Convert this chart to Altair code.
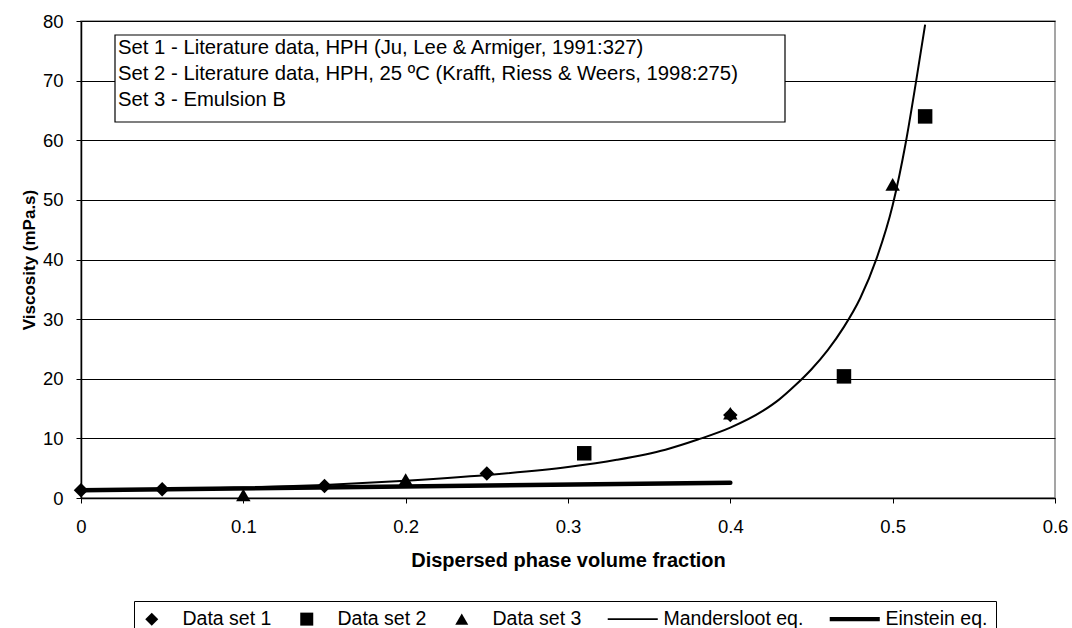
import altair as alt
import pandas as pd

# Measured viscosities (mPa.s) against dispersed phase volume fraction
set1_phi = [0.0, 0.05, 0.15, 0.25, 0.40]
set1_visc = [1.3, 1.45, 2.0, 4.1, 13.9]
set2_phi = [0.31, 0.47, 0.52]
set2_visc = [7.5, 20.4, 64.0]
set3_phi = [0.10, 0.20, 0.40, 0.50]
set3_visc = [0.5, 3.1, 14.2, 52.6]

# Model curves
mand_phi = [0.0, 0.05, 0.10, 0.15, 0.20, 0.25, 0.30, 0.33, 0.36, 0.38, 0.40,
            0.42, 0.43, 0.44, 0.45, 0.46, 0.47, 0.48, 0.49, 0.50, 0.508, 0.5145, 0.52]
mand_visc = [1.3, 1.48, 1.75, 2.2, 2.9, 3.85, 5.2, 6.4, 8.1, 9.8, 11.8,
             14.6, 16.5, 18.9, 21.6, 24.8, 28.7, 33.5, 40.1, 49.1, 59.5, 70.0, 79.4]
einstein_phi = [0.0, 0.40]
einstein_visc = [1.28, 2.56]

series_names = ["Data set 1", "Data set 2", "Data set 3", "Mandersloot eq.", "Einstein eq."]
note_lines = [
    "Set 1 - Literature data, HPH (Ju, Lee & Armiger, 1991:327)",
    "Set 2 - Literature data, HPH, 25 \u00baC (Krafft, Riess & Weers, 1998:275)",
    "Set 3 - Emulsion B",
]

FONT = "Liberation Sans"

points = pd.DataFrame(
    {
        "phi": set1_phi + set2_phi + set3_phi,
        "visc": set1_visc + set2_visc + set3_visc,
        "series": [series_names[0]] * len(set1_phi)
        + [series_names[1]] * len(set2_phi)
        + [series_names[2]] * len(set3_phi),
    }
)
mand = pd.DataFrame({"phi": mand_phi, "visc": mand_visc})
einstein = pd.DataFrame({"phi": einstein_phi, "visc": einstein_visc})

x_scale = alt.Scale(domain=[0, 0.6], nice=False, zero=False)
y_scale = alt.Scale(domain=[0, 80], nice=False)

x_axis = alt.Axis(
    title="Dispersed phase volume fraction",
    values=[0, 0.1, 0.2, 0.3, 0.4, 0.5, 0.6],
    format="~g",
    grid=False,
    tickSize=5,
    labelPadding=14,
    labelFlush=False,
    titlePadding=15,
    titleFontSize=20,
)
y_axis = alt.Axis(
    title="Viscosity (mPa.s)",
    values=list(range(0, 81, 10)),
    grid=True,
    tickSize=5,
    labelPadding=13,
    labelFlush=False,
    titlePadding=4,
    titleFontSize=17,
)

# Legend glyphs: thin and thick horizontal bars stand in for the two curves
thin_bar = "M-3.85,-0.12L3.85,-0.12L3.85,0.12L-3.85,0.12Z"
thick_bar = "M-3.85,-0.34L3.85,-0.34L3.85,0.34L-3.85,0.34Z"
shape_range = ["diamond", "square", "triangle-up", thin_bar, thick_bar]

mand_line = (
    alt.Chart(mand)
    .mark_line(color="black", strokeWidth=2, interpolate="monotone")
    .encode(x=alt.X("phi:Q", scale=x_scale, axis=x_axis), y=alt.Y("visc:Q", scale=y_scale, axis=y_axis))
)
einstein_line = (
    alt.Chart(einstein)
    .mark_line(color="black", strokeWidth=4.5, strokeCap="round")
    .encode(x=alt.X("phi:Q", scale=x_scale), y=alt.Y("visc:Q", scale=y_scale))
)
markers = (
    alt.Chart(points)
    .mark_point(filled=True, opacity=1, size=210, color="black")
    .encode(
        x=alt.X("phi:Q", scale=x_scale),
        y=alt.Y("visc:Q", scale=y_scale),
        shape=alt.Shape(
            "series:N",
            scale=alt.Scale(domain=series_names, range=shape_range),
            legend=alt.Legend(
                title=None,
                orient="none",
                direction="horizontal",
                legendX=53,
                legendY=580,
                strokeColor="black",
                padding=8,
                columnPadding=25,
                symbolSize=169,
                symbolFillColor="black",
                symbolStrokeColor="black",
                symbolStrokeWidth=0,
                labelOffset=21,
                labelFontSize=19.5,
                labelFont=FONT,
                labelColor="black",
                labelLimit=300,
            ),
        ),
    )
)

note_box = (
    alt.Chart(alt.Data(values=[{}]))
    .mark_rect(fill="white", stroke="black", strokeWidth=1.2)
    .encode(x=alt.value(34), x2=alt.value(704), y=alt.value(14), y2=alt.value(101))
)
note_text = (
    alt.Chart(alt.Data(values=[{"t": "\n".join(note_lines)}]))
    .mark_text(
        align="left",
        baseline="middle",
        lineBreak="\n",
        lineHeight=26,
        fontSize=20.3,
        font=FONT,
        color="black",
    )
    .encode(x=alt.value(37), y=alt.value(27), text="t:N")
)

chart = (
    alt.layer(mand_line, einstein_line, markers, note_box, note_text)
    .properties(
        width=974,
        height=477,
        autosize=alt.AutoSizeParams(type="none"),
        padding={"left": 81, "top": 21, "right": 17, "bottom": 130},
        background="white",
    )
    .configure_view(stroke="#888888", strokeWidth=1.5)
    .configure_axis(
        labelFont=FONT,
        labelFontSize=18.5,
        labelColor="black",
        titleFont=FONT,
        titleFontWeight="bold",
        titleColor="black",
        domainColor="black",
        domainWidth=1.5,
        tickColor="black",
        gridColor="black",
        gridWidth=1,
    )
)

chart.save("out.html", embed_options={"renderer": "svg", "actions": False})
